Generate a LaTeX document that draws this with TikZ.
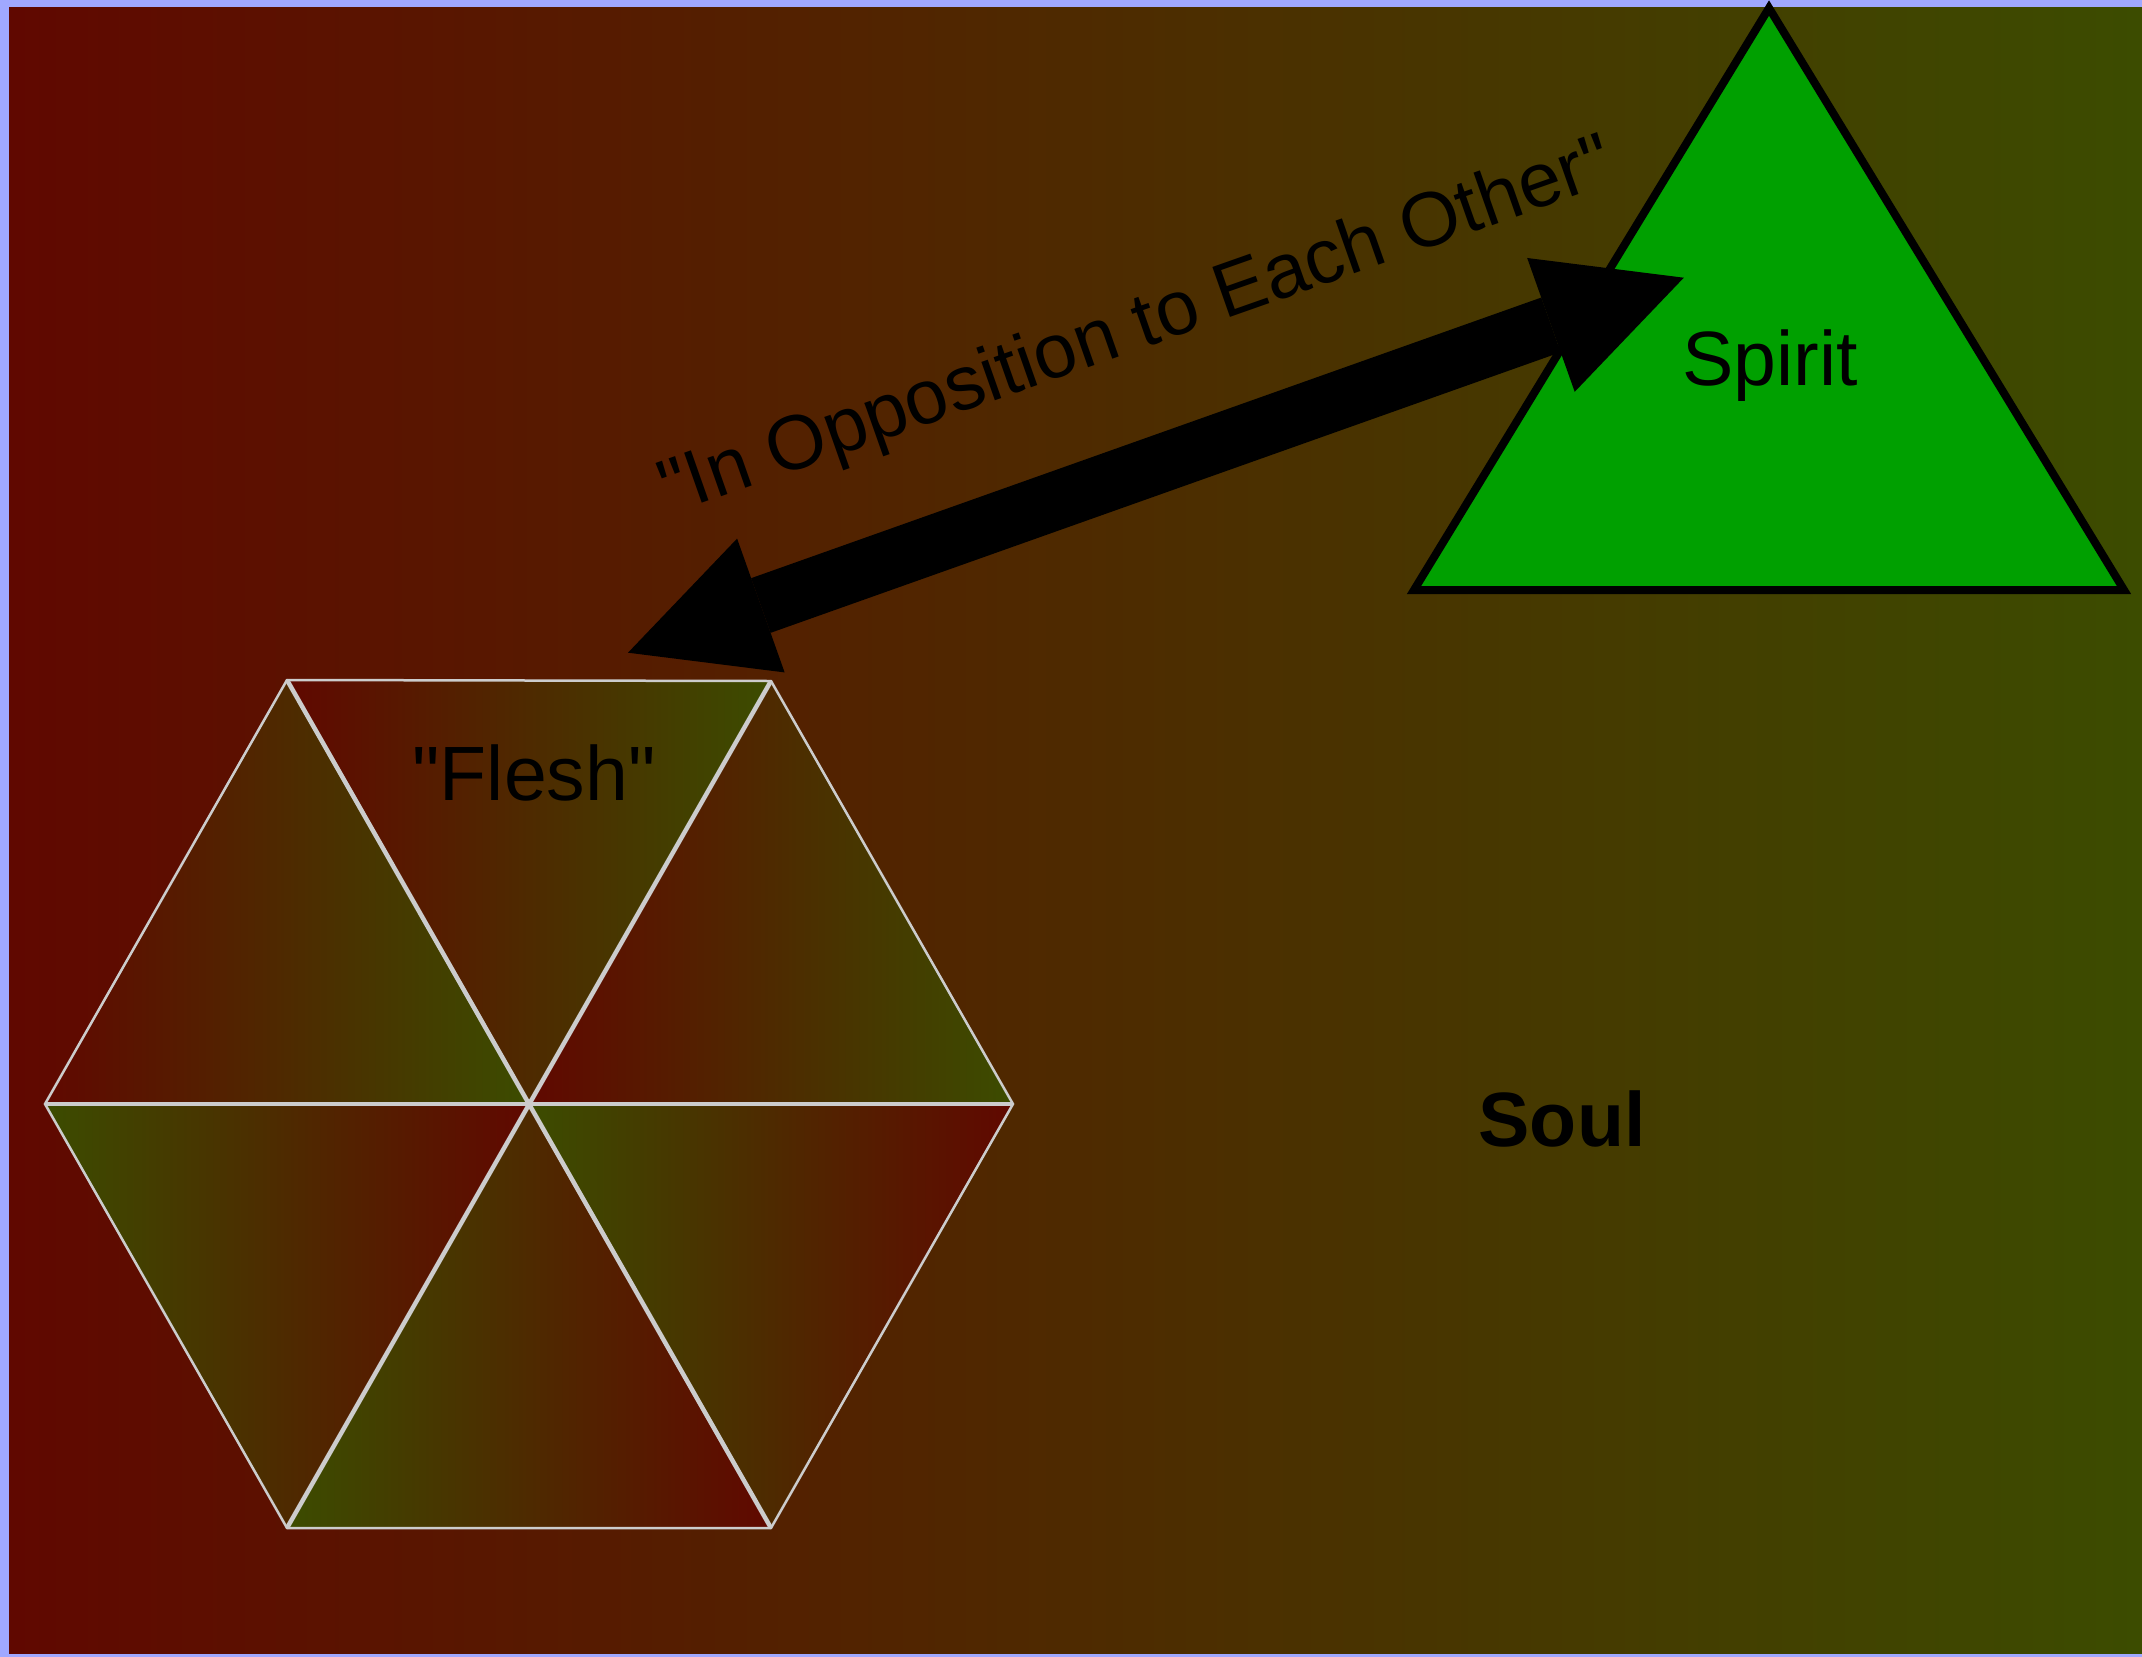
\documentclass[tikz,border=0pt]{standalone}
\usepackage{fontspec}
\setmainfont{Liberation Sans}[Ligatures=TeXOff]
\usetikzlibrary{arrows.meta}
\definecolor{bgred}{RGB}{96,8,0}
\definecolor{bggreen}{RGB}{60,76,0}
\definecolor{frameblue}{RGB}{160,168,255}
\definecolor{spiritgreen}{RGB}{0,160,0}
\definecolor{hexline}{RGB}{204,204,204}
\tikzset{
  redgreen/.style={left color=bgred, right color=bggreen},
  greenred/.style={left color=bggreen, right color=bgred},
  hextri/.style={draw=hexline, line width=2.5pt, line join=round},
  bigtext/.style={font=\fontsize{77}{90}\selectfont, text=black, inner sep=0pt, anchor=base},
  bigarrow/.style={line width=58pt,
    {Triangle[length=141pt,width=142pt,line width=0pt]}-{Triangle[length=141pt,width=142pt,line width=0pt]}}
}
\begin{document}
\begin{tikzpicture}[x=1pt,y=-1pt]
\useasboundingbox (0,0) rectangle (2142,1657);
% frame and background
\fill[frameblue] (0,0) rectangle (2142,1657);
\shade[redgreen] (9,7) rectangle (2142,1653);

% hexagon ("Flesh")
\coordinate (hc) at (529,1104);
\coordinate (htl) at (287,680);
\coordinate (htr) at (771,681);
\coordinate (hr) at (1013,1104);
\coordinate (hbr) at (771,1528);
\coordinate (hbl) at (287,1528);
\coordinate (hl) at (45,1104);
\shadedraw[redgreen, hextri] (htl) -- (hl) -- (hc) -- cycle;
\shadedraw[redgreen, hextri] (htl) -- (htr) -- (hc) -- cycle;
\shadedraw[redgreen, hextri] (htr) -- (hr) -- (hc) -- cycle;
\shadedraw[greenred, hextri] (hc) -- (hr) -- (hbr) -- cycle;
\shadedraw[greenred, hextri] (hc) -- (hbr) -- (hbl) -- cycle;
\shadedraw[greenred, hextri] (hl) -- (hc) -- (hbl) -- cycle;
\draw[draw=hexline, line width=4.5pt] (htl) -- (hbr) (htr) -- (hbl);
\draw[draw=hexline, line width=3.5pt] (hl) -- (hr);
\node[bigtext] (flesh) at (534,800) {"Flesh"};

% Spirit triangle
\coordinate (sapex) at (1769,8);
\coordinate (sright) at (2124,590);
\coordinate (sleft) at (1414,590);
\draw[fill=spiritgreen, draw=black, line width=8pt, line join=miter] (sapex) -- (sright) -- (sleft) -- cycle;
\node[bigtext] (spirit) at (1770,385) {Spirit};

% opposition arrow
\coordinate (fleshtip) at (628,652.7);
\coordinate (spirittip) at (1683.8,277.7);
\draw[bigarrow] (fleshtip) -- (spirittip);
\node[bigtext, rotate=19.4] (opp) at (1144,348) {"In Opposition to Each Other"};

% Soul
\node[bigtext, font=\fontsize{77}{90}\selectfont\bfseries] (soul) at (1562,1146) {Soul};
\end{tikzpicture}
\end{document}
